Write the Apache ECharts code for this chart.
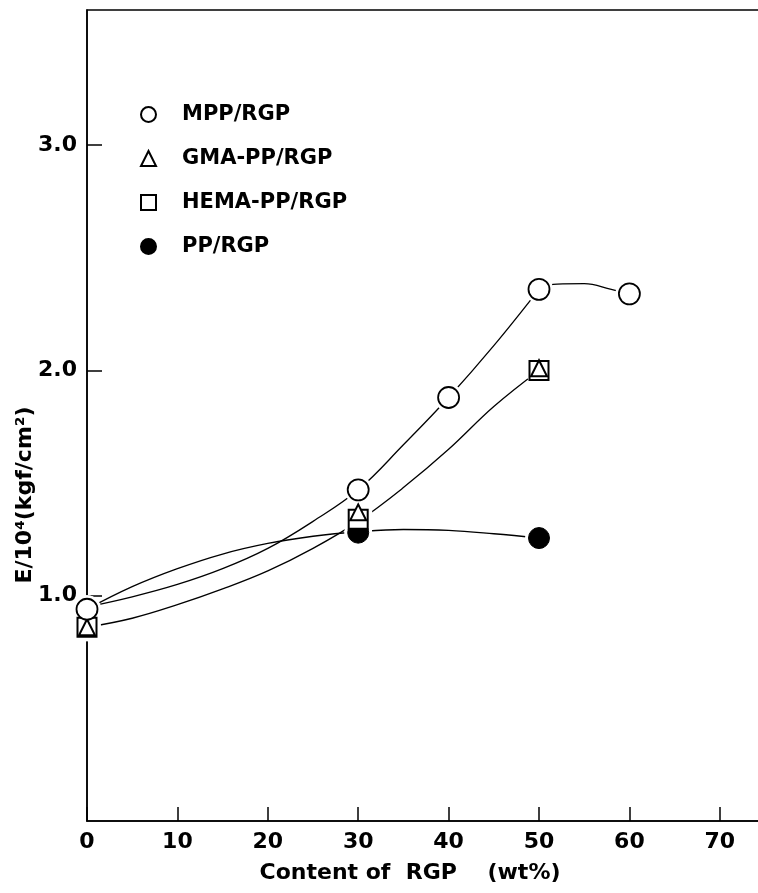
<!DOCTYPE html>
<html>
<head>
<meta charset="utf-8">
<script src="https://cdn.jsdelivr.net/npm/echarts@6/dist/echarts.min.js"></script>
<style>html,body{margin:0;padding:0;background:#fff}#c{width:758px;height:893px}</style>
</head>
<body>
<div id="c"></div>
<script>
// ---- data ----
const xTickValues = [0, 10, 20, 30, 40, 50, 60, 70];
const yTickLabels = ['1.0', '2.0', '3.0'];

const seriesNames = ['MPP/RGP', 'GMA-PP/RGP', 'HEMA-PP/RGP', 'PP/RGP'];

const mppX = [0, 30, 40, 50, 60];
const mppY = [0.94, 1.47, 1.88, 2.36, 2.34];
const gmaX = [0, 30, 50];
const gmaY = [0.86, 1.37, 2.01];
const hemaX = [0, 30, 50];
const hemaY = [0.86, 1.34, 2.00];
const ppX = [0, 30, 50];
const ppY = [0.94, 1.28, 1.256];

// fitted curves as drawn in the reference
const curveX = [0, 5, 10, 15, 20, 25, 30, 35, 40, 45, 50];
const mppCurveY = [0.95, 0.995, 1.05, 1.12, 1.21, 1.33, 1.47, 1.67, 1.88, 2.11, 2.36];
const mppArcX = [50, 52, 55, 58, 60];
const mppArcY = [2.37, 2.383, 2.385, 2.36, 2.34];
const graftCurveY = [0.86, 0.90, 0.96, 1.03, 1.11, 1.21, 1.33, 1.48, 1.65, 1.84, 2.00];
const ppCurveY = [0.94, 1.04, 1.12, 1.185, 1.232, 1.264, 1.284, 1.294, 1.29, 1.275, 1.256];

// ---- build ----
const zip = (xs, ys) => xs.map((x, i) => [x, ys[i]]);
const FONT = 'DejaVu Sans';
const chart = echarts.init(document.getElementById('c'), null, {renderer: 'canvas'});

const lineStyle = {color: '#000', width: 1.3, opacity: 1};
function curve(name, xs, ys) {
  return {name: name, type: 'line', data: zip(xs, ys), smooth: 0.4, showSymbol: false,
    symbol: 'none', lineStyle: lineStyle, z: 2, silent: true, clip: false};
}
const allPts = [].concat(zip(mppX, mppY), zip(gmaX, gmaY), zip(hemaX, hemaY), zip(ppX, ppY));

const option = {
  backgroundColor: '#fff',
  animation: false,
  grid: {left: 87, top: 10, width: 678, height: 811, containLabel: false, outerBoundsMode: 'none',
    show: true, borderColor: '#000', borderWidth: 1.5, backgroundColor: 'transparent'},
  xAxis: {
    type: 'value', min: 0, max: 75, interval: 10,
    splitLine: {show: false},
    axisLine: {lineStyle: {color: '#000', width: 1.5}},
    axisTick: {inside: true, length: 14, lineStyle: {color: '#000', width: 1.5},
      customValues: xTickValues},
    axisLabel: {margin: 10, color: '#000', fontFamily: FONT, fontWeight: 'bold', fontSize: 22,
      customValues: xTickValues, formatter: v => String(v)}
  },
  yAxis: {
    type: 'value', min: 0, max: 3.6, interval: 1,
    splitLine: {show: false},
    axisLine: {lineStyle: {color: '#000', width: 1.5}},
    axisTick: {inside: true, length: 15, lineStyle: {color: '#000', width: 1.5},
      customValues: [1, 2, 3]},
    axisLabel: {margin: 10, color: '#000', fontFamily: FONT, fontWeight: 'bold', fontSize: 22,
      customValues: [1, 2, 3], formatter: v => yTickLabels[Math.round(v) - 1] || ''}
  },
  legend: {
    data: seriesNames, orient: 'vertical', left: 135, top: 99,
    itemWidth: 15, itemHeight: 15, itemGap: 23,
    textStyle: {color: '#000', fontFamily: FONT, fontWeight: 'bold', fontSize: 21,
      lineHeight: 20, padding: [0, 0, 0, 21]},
    selectedMode: false
  },
  graphic: [
    {type: 'text', x: 25, y: 495, rotation: Math.PI / 2,
      style: {text: 'E/10\u2074(kgf/cm\u00b2)', fill: '#000', font: 'bold 22px "DejaVu Sans"',
        align: 'center', verticalAlign: 'middle'}},
    {type: 'text', x: 410, y: 873,
      style: {text: 'Content of  RGP    (wt%)', fill: '#000', font: 'bold 22px "DejaVu Sans"',
        align: 'center', verticalAlign: 'middle'}}
  ],
  series: [
    curve('c-mpp', curveX, mppCurveY),
    curve('c-mpp2', mppArcX, mppArcY),
    curve('c-graft', curveX, graftCurveY),
    curve('c-pp', curveX, ppCurveY),
    {name: 'halo', type: 'scatter', data: allPts, symbol: 'circle', symbolSize: 28,
      itemStyle: {color: '#fff', borderWidth: 0, opacity: 1}, z: 3, silent: true, clip: false},
    {name: 'PP/RGP', type: 'scatter', data: zip(ppX, ppY), symbol: 'circle', symbolSize: 21,
      itemStyle: {color: '#000', borderColor: '#000', borderWidth: 1, opacity: 1}, z: 4, clip: false},
    {name: 'HEMA-PP/RGP', type: 'scatter', data: zip(hemaX, hemaY), symbol: 'rect', symbolSize: 19,
      itemStyle: {color: '#fff', borderColor: '#000', borderWidth: 2, opacity: 1}, z: 5, clip: false},
    {name: 'GMA-PP/RGP', type: 'scatter', data: zip(gmaX, gmaY), symbol: 'triangle', symbolSize: 16,
      itemStyle: {color: '#fff', borderColor: '#000', borderWidth: 2, opacity: 1}, z: 6, clip: false},
    {name: 'MPP/RGP', type: 'scatter', data: zip(mppX, mppY), symbol: 'circle', symbolSize: 21,
      itemStyle: {color: '#fff', borderColor: '#000', borderWidth: 1.8, opacity: 1}, z: 7, clip: false}
  ]
};
chart.setOption(option);
</script>
</body>
</html>
